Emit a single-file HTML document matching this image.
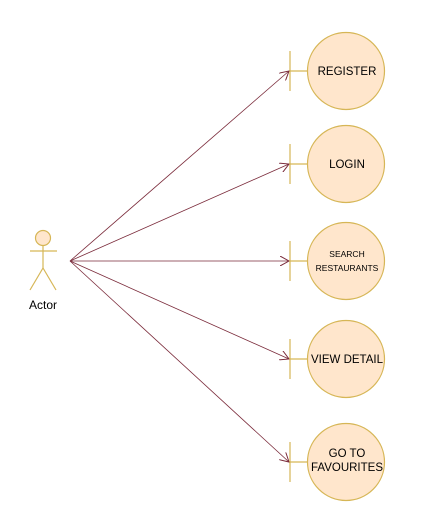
<!DOCTYPE html>
<html><head><style>body{margin:0;background:#fff}svg{display:block}</style></head><body>
<svg width="421" height="531" xmlns="http://www.w3.org/2000/svg" font-family="Liberation Sans, sans-serif">
<defs><marker id="a" markerWidth="10" markerHeight="10" refX="9" refY="5" orient="auto" markerUnits="userSpaceOnUse"><path d="M0,0 L9,5 L0,10" fill="none" stroke="#7a2a3a" stroke-width="1"/></marker></defs>
<g stroke="#d6b656" fill="#ffe6cc" stroke-width="1.2">
<circle cx="43" cy="238" r="7.5"/>
<line x1="43" y1="245.5" x2="43" y2="268"/>
<line x1="30" y1="251" x2="57" y2="251"/>
<line x1="43" y1="268" x2="30" y2="290"/>
<line x1="43" y1="268" x2="56" y2="290"/>
</g>
<text x="43" y="309" font-size="12" text-anchor="middle">Actor</text>
<g stroke="#7a2a3a" stroke-width="0.8" fill="none" marker-end="url(#a)">
<line x1="70" y1="261" x2="289" y2="71"/>
<line x1="70" y1="261" x2="289" y2="164"/>
<line x1="70" y1="261" x2="289" y2="261"/>
<line x1="70" y1="261" x2="289" y2="359"/>
<line x1="70" y1="261" x2="289" y2="462"/>
</g>
<g stroke="#d6b656" stroke-width="1.2" fill="#ffe6cc">
<g><line x1="290" y1="51" x2="290" y2="91"/><line x1="290" y1="71" x2="308" y2="71"/><circle cx="346" cy="71" r="38.5"/></g>
<g><line x1="290" y1="144" x2="290" y2="184"/><line x1="290" y1="164" x2="308" y2="164"/><circle cx="346" cy="164" r="38.5"/></g>
<g><line x1="290" y1="241" x2="290" y2="281"/><line x1="290" y1="261" x2="308" y2="261"/><circle cx="346" cy="261" r="38.5"/></g>
<g><line x1="290" y1="339" x2="290" y2="379"/><line x1="290" y1="359" x2="308" y2="359"/><circle cx="346" cy="359" r="38.5"/></g>
<g><line x1="290" y1="442" x2="290" y2="482"/><line x1="290" y1="462" x2="308" y2="462"/><circle cx="346" cy="462" r="38.5"/></g>
</g>
<g font-size="11.5" text-anchor="middle" fill="#000">
<text x="347" y="75">REGISTER</text>
<text x="347" y="168">LOGIN</text>
<text x="347" y="257" font-size="8.5">SEARCH</text>
<text x="347" y="271" font-size="8.5">RESTAURANTS</text>
<text x="347" y="363">VIEW DETAIL</text>
<text x="347" y="457">GO TO</text>
<text x="347" y="471">FAVOURITES</text>
</g>
</svg>
</body></html>
